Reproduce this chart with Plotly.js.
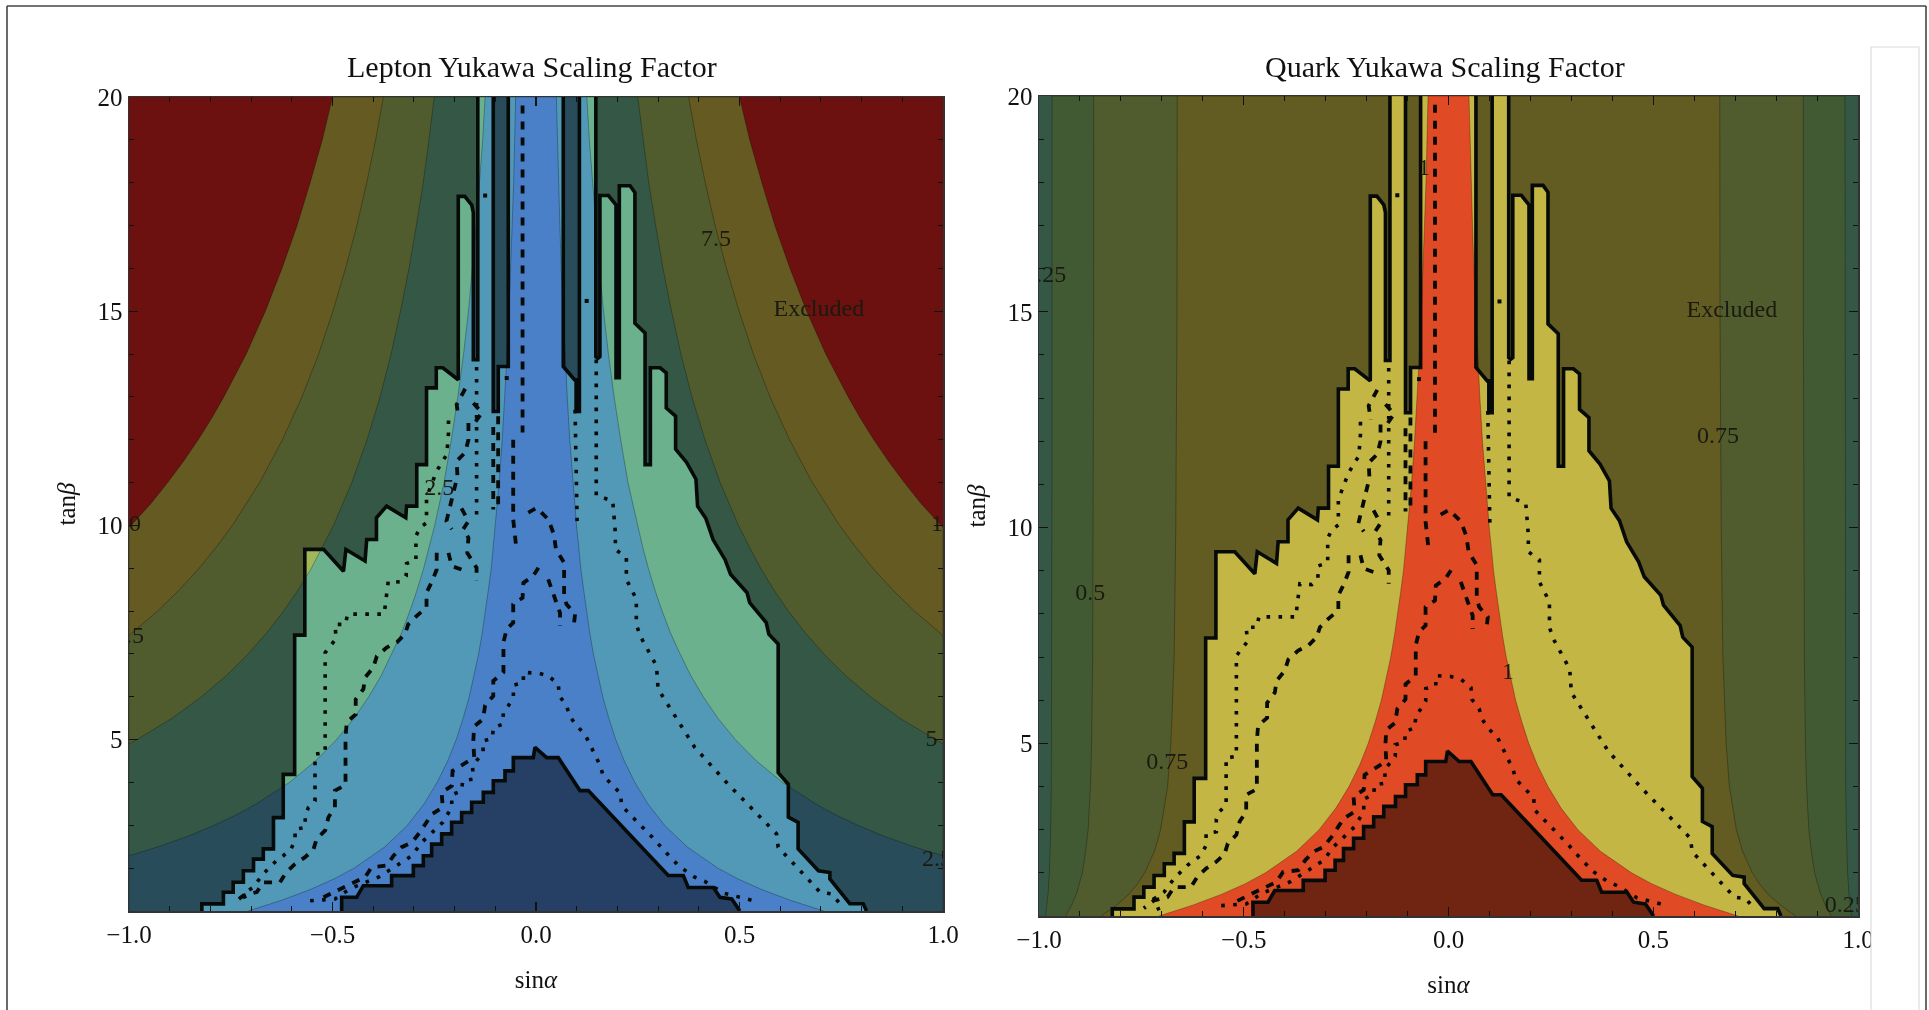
<!DOCTYPE html>
<html>
<head>
<meta charset="utf-8">
<script src="https://cdn.plot.ly/plotly-3.0.1.min.js"></script>
<style>html,body{margin:0;padding:0;background:#fff}#chart{width:1929px;height:1010px;filter:blur(0.7px)}</style>
</head>
<body>
<div id="chart"></div>
<script>
// ---- tick labels / titles
const titles = ["Lepton Yukawa Scaling Factor", "Quark Yukawa Scaling Factor"];
const xTickVals = [-1, -0.5, 0, 0.5, 1];
const xTickText = ["\u22121.0", "\u22120.5", "0.0", "0.5", "1.0"];
const yTickVals = [5, 10, 15, 20];
const yTickText = ["5", "10", "15", "20"];

// ---- lepton factor contours, half-width |sin a| read against tan b (symmetric)
const lep1  = [[.707,1],[.625,1.25],[.555,1.5],[.496,1.75],[.447,2],[.371,2.5],[.316,3],[.275,3.5],[.243,4],[.217,4.5],[.196,5],[.179,5.5],[.164,6],[.152,6.5],[.141,7],[.132,7.5],[.124,8],[.117,8.5],[.11,9],[.105,9.5],[.0995,10],[.0905,11],[.083,12],[.0767,13],[.071,14],[.0665,15],[.062,16],[.0587,17],[.055,18],[.0525,19],[.05,20]];
const lep25 = [[1,1],[1,2.29],[.928,2.5],[.854,2.75],[.791,3],[.735,3.25],[.687,3.5],[.606,4],[.542,4.5],[.49,5],[.447,5.5],[.411,6],[.38,6.5],[.354,7],[.33,7.5],[.31,8],[.292,8.5],[.276,9],[.262,9.5],[.249,10],[.226,11],[.208,12],[.192,13],[.178,14],[.166,15],[.156,16],[.147,17],[.139,18],[.131,19],[.125,20]];
const lep5  = [[1,1],[1,4.9],[.981,5],[.894,5.5],[.822,6],[.76,6.5],[.707,7],[.661,7.5],[.62,8],[.584,8.5],[.552,9],[.524,9.5],[.4975,10],[.4525,11],[.415,12],[.383,13],[.356,14],[.333,15],[.312,16],[.294,17],[.277,18],[.263,19],[.25,20]];
const lep75 = [[1,1],[1,7.43],[.93,8],[.876,8.5],[.828,9],[.785,9.5],[.746,10],[.679,11],[.623,12],[.575,13],[.534,14],[.499,15],[.468,16],[.44,17],[.416,18],[.394,19],[.375,20]];
const lep10 = [[1,1],[1,9.95],[.995,10],[.947,10.5],[.905,11],[.866,11.5],[.83,12],[.797,12.5],[.767,13],[.712,14],[.665,15],[.624,16],[.587,17],[.555,18],[.525,19],[.5,20]];

// ---- quark factor contours
const qrk25 = [[.984,1],[.9808,1.25],[.978,1.5],[.9747,2],[.9727,2.5],[.9715,3],[.97,4],[.9695,5],[.9689,7],[.9686,10],[.9684,15],[.9682,20]];
const qrk50 = [[.935,1],[.9206,1.25],[.909,1.5],[.901,1.75],[.894,2],[.886,2.5],[.88,3],[.8745,4],[.8716,5],[.869,7],[.8675,10],[.8666,15],[.8664,20]];
const qrk75 = [[.848,1],[.8106,1.25],[.781,1.5],[.759,1.75],[.742,2],[.718,2.5],[.703,3],[.686,4],[.678,5],[.67,7],[.666,10],[.663,15],[.6625,20]];

// ---- excluded region outlines
const edgeLeft = [[-.821,1],[-.821,1.166],[-.768,1.166],[-.768,1.437],[-.744,1.437],[-.744,1.67],[-.719,1.67],[-.719,1.94],[-.694,1.94],[-.694,2.21],[-.67,2.21],[-.67,2.45],[-.645,2.45],[-.645,3.18],[-.621,3.18],[-.621,4.19],[-.593,4.19],[-.593,7.44],[-.568,7.44],[-.568,9.44],[-.522,9.44],[-.473,8.93],[-.467,9.44],[-.42,9.17],[-.416,9.67],[-.392,9.67],[-.392,10.18],[-.367,10.45],[-.32,10.18],[-.318,10.45],[-.293,10.45],[-.293,11.42],[-.269,11.42],[-.269,13.21],[-.245,13.21],[-.245,13.68],[-.229,13.68],[-.191,13.4],[-.191,17.68],[-.175,17.68],[-.158,17.48],[-.154,17.3],[-.154,13.87],[-.148,13.87],[-.143,13.87],[-.143,20]];
const edgeRight = [[.147,20],[.147,13.94],[.152,13.9],[.157,13.94],[.157,17.7],[.178,17.7],[.1966,17.48],[.1966,13.45],[.2047,13.45],[.2047,17.93],[.231,17.93],[.243,17.77],[.243,14.72],[.268,14.49],[.268,11.42],[.281,11.42],[.281,13.68],[.305,13.68],[.32,13.56],[.32,12.74],[.343,12.55],[.343,11.78],[.37,11.47],[.393,11.08],[.397,10.45],[.4175,10.16],[.435,9.67],[.4646,9.2],[.478,8.86],[.5185,8.43],[.525,8.2],[.5657,7.73],[.572,7.46],[.595,7.23],[.595,4.23],[.62,3.96],[.62,3.19],[.644,3.07],[.644,2.45],[.694,1.94],[.722,1.9],[.722,1.75],[.771,1.17],[.804,1.17],[.812,1]];
const columnLeft = [[-.105,20],[-.105,12.66],[-.0927,12.66],[-.0927,13.71],[-.0681,13.71],[-.0681,20]];
const columnRight = [[.067,20],[.067,13.71],[.0946,13.4],[.0985,13.4],[.0985,12.66],[.1066,12.66],[.1066,20]];
const coreEdge = [[-.4775,1],[-.4775,1.32],[-.4407,1.32],[-.4243,1.59],[-.3547,1.59],[-.3547,1.825],[-.3014,1.825],[-.3014,2.06],[-.2769,2.06],[-.2769,2.29],[-.2564,2.29],[-.2564,2.56],[-.2318,2.56],[-.2318,2.8],[-.2073,2.8],[-.2073,3.07],[-.1827,3.07],[-.1827,3.3],[-.1581,3.3],[-.1581,3.54],[-.1295,3.54],[-.1295,3.77],[-.1049,3.77],[-.1049,4.04],[-.0762,4.04],[-.0762,4.27],[-.0557,4.27],[-.0557,4.58],[-.0066,4.58],[-.0025,4.82],[.0262,4.58],[.0548,4.58],[.108,3.81],[.1285,3.81],[.325,1.83],[.362,1.83],[.374,1.55],[.436,1.55],[.452,1.32],[.481,1.28],[.501,1]];

// ---- dashed limit curves
const dashCentre = [[-.033,19.8],[-.033,12.17]];
const dashCentre2 = [[-.056,12],[-.056,10.14],[-.048,9.44]];
const dashArchHigh = [[-.019,10.3],[.0016,10.41],[.0303,10.14],[.044,9.79],[.049,9.44],[.069,9.13],[.069,8.35],[.075,8.16],[.096,7.93],[.092,7.58]];
const dashArchLow = [[.006,9.01],[-.007,8.82],[-.031,8.66],[-.033,8.31],[-.056,8.16],[-.056,7.73],[-.072,7.58],[-.08,7.27],[-.08,6.57],[-.105,6.37],[-.105,6.02],[-.125,5.8],[-.13,5.48],[-.152,5.31],[-.154,4.97],[-.152,4.58],[-.178,4.43],[-.205,4.27],[-.207,3.92],[-.232,3.77],[-.229,3.42],[-.256,3.26],[-.269,3.07],[-.285,2.84],[-.305,2.6],[-.33,2.49],[-.35,2.29],[-.367,2.06],[-.404,2.02],[-.42,1.79],[-.473,1.55],[-.522,1.32]];
const dashArchSide = [[.03,8.74],[.043,8.39],[.059,7.96],[.059,7.65]];
const dashLong = [[-.244,9.36],[-.244,8.97],[-.256,8.68],[-.269,8.43],[-.269,8.08],[-.293,7.89],[-.314,7.69],[-.322,7.46],[-.342,7.27],[-.367,7.15],[-.391,6.95],[-.4,6.68],[-.42,6.45],[-.424,6.18],[-.443,5.94],[-.443,5.59],[-.465,5.41],[-.468,5.05],[-.468,3.94],[-.494,3.81],[-.494,3.42],[-.51,3.19],[-.518,2.88],[-.539,2.68],[-.547,2.43],[-.568,2.25],[-.592,2.1],[-.614,1.9],[-.629,1.67],[-.67,1.67],[-.686,1.44],[-.719,1.36],[-.744,1.18]];
const dashUpperA = [[-.166,12.39],[-.166,12],[-.174,11.7],[-.195,11.5],[-.193,11.15],[-.211,10.45],[-.22,10.1],[-.207,9.91]];
const dashUpperB = [[-.183,10.4],[-.166,10.1],[-.179,9.91],[-.166,9.71],[-.169,9.36],[-.146,9.01],[-.146,8.7]];
const dashUpperC = [[-.215,9.36],[-.207,9.05],[-.174,8.94]];
const dashColA = [[-.105,12.3],[-.105,10.37]];
const dashColB = [[-.093,12.55],[-.093,10.37]];
const dashTopA = [[-.174,13.19],[-.195,12.82],[-.19,12.5]];
const dashTopB = [[-.154,12.86],[-.133,12.63],[-.15,12.4]];

// ---- dotted limit curves
const dotRight = [[.148,13.87],[.148,11.07],[.148,10.7],[.1886,10.57],[.195,9.83],[.195,9.44],[.222,9.25],[.222,8.74],[.2465,8.28],[.2465,7.69],[.256,7.42],[.283,6.95],[.296,6.72],[.3,6.18],[.345,5.48],[.39,4.82],[.472,3.96],[.554,3.15],[.591,2.8],[.595,2.49],[.657,1.86],[.698,1.44],[.726,1.4],[.747,1.17]];
const dotArch = [[-.555,1.24],[-.494,1.28],[-.457,1.52],[-.387,1.79],[-.342,2.06],[-.305,2.29],[-.281,2.6],[-.229,3.07],[-.207,3.42],[-.207,3.71],[-.183,3.81],[-.18,4.04],[-.154,4.08],[-.156,4.39],[-.13,4.7],[-.13,4.97],[-.107,5.03],[-.105,5.28],[-.082,5.36],[-.08,5.65],[-.068,5.79],[-.0556,5.98],[-.0556,6.27],[-.031,6.33],[-.031,6.57],[.0057,6.55],[.03,6.49],[.055,6.29],[.057,6.02],[.075,5.8],[.082,5.56],[.1,5.32],[.12,5.13],[.1325,4.87],[.145,4.62],[.157,4.41],[.165,4.16],[.186,3.94],[.208,3.74],[.21,3.46],[.231,3.26],[.251,3.07],[.272,2.85],[.292,2.66],[.311,2.45],[.331,2.25],[.352,2.04],[.39,1.79],[.415,1.69],[.46,1.42],[.505,1.3],[.534,1.24]];
const dotLeft = [[-.215,12.45],[-.215,12.16],[-.219,11.66],[-.232,11.46],[-.244,11.27],[-.269,10.65],[-.269,10.06],[-.285,9.95],[-.295,9.75],[-.295,9.19],[-.318,9.11],[-.319,8.82],[-.334,8.68],[-.363,8.7],[-.369,8.16],[-.373,7.93],[-.463,7.93],[-.468,7.69],[-.494,7.69],[-.491,7.36],[-.518,7.03],[-.518,4.7],[-.543,4.66],[-.543,3.57],[-.559,3.42],[-.567,3.24],[-.567,2.95],[-.592,2.91],[-.592,2.64],[-.604,2.41],[-.621,2.29],[-.637,2.18],[-.67,1.87],[-.695,1.55],[-.719,1.4],[-.707,1.13]];
const dotColLeft = [[-.146,13.7],[-.146,10.18]];
const dotColRight = [[.096,12.7],[.101,10.1]];
const dotSpecks = [[-.125,17.7],[.1245,15.24],[-.072,13.44]];

// ---- text inside the panels: [text, x, y]
const lepLabels = [["7.5",.442,16.67],["Excluded",.695,15.03],["2.5",-.238,10.84],["10",-1,10],["10",1,10],["7.5",-1,7.4],["5",.972,5],["2.5",.985,2.2]];
const qrkLabels = [["0.25",-.985,15.82],["0.5",-.875,8.47],["0.75",-.687,4.54],["0.75",.658,12.1],["Excluded",.692,15.02],["0.25",.97,1.23],["1",.145,6.64],["1",-.06,18.3]];

// ---- colours
const lepColours = {bg:"#d82020", k10:"#c8b444", k75:"#a0b85a", k5:"#6bb18d", k25:"#5299b7", k1:"#4a80c8"};
const qrkColours = {bg:"#6bb18d", k25:"#85b468", k50:"#a0b85a", k75:"#c4b644", k1:"#e04a25"};
const serif = "'Liberation Serif','Times New Roman',serif";

const xs = a => a.map(p => p[0]);
const ys = a => a.map(p => p[1]);
const traces = [];
const common = {hoverinfo:"skip", showlegend:false};

function band(curve, colour, xa, ya) {
  const left = curve.map(p => [-p[0], p[1]]);
  const right = curve.slice().reverse();
  const poly = left.concat(right);
  traces.push({...common, type:"scatter", mode:"lines", x:xs(poly), y:ys(poly), xaxis:xa, yaxis:ya,
    fill:"toself", fillcolor:colour, line:{color:"rgba(0,0,0,0.28)", width:1}});
}
function shade(poly, xa, ya) {
  traces.push({...common, type:"scatter", mode:"lines", x:xs(poly), y:ys(poly), xaxis:xa, yaxis:ya,
    fill:"toself", fillcolor:"rgba(0,0,0,0.5)", line:{width:0, color:"rgba(0,0,0,0)"}});
}
function stroke(path, xa, ya, width, dash) {
  traces.push({...common, type:"scatter", mode:"lines", x:xs(path), y:ys(path), xaxis:xa, yaxis:ya,
    line:{color:"#060a08", width:width, dash:dash||"solid", shape:"linear"}});
}
function overlay(xa, ya, labels) {
  shade(edgeLeft.concat([[-1,20],[-1,1]]), xa, ya);
  shade(edgeRight.concat([[1,1],[1,20]]), xa, ya);
  shade(columnLeft, xa, ya);
  shade(columnRight, xa, ya);
  shade(coreEdge, xa, ya);
  [edgeLeft, edgeRight, columnLeft, columnRight, coreEdge].forEach(p => stroke(p, xa, ya, 3.6));
  [dashCentre, dashCentre2, dashArchHigh, dashArchLow, dashArchSide, dashLong, dashUpperA, dashUpperB, dashUpperC, dashColA, dashColB, dashTopA, dashTopB]
    .forEach(p => stroke(p, xa, ya, 3.8, "8px,8px"));
  [dotRight, dotArch, dotLeft, dotColLeft, dotColRight]
    .forEach(p => stroke(p, xa, ya, 3.6, "3.6px,8.4px"));
  traces.push({...common, type:"scatter", mode:"markers", x:xs(dotSpecks), y:ys(dotSpecks), xaxis:xa, yaxis:ya,
    marker:{size:4, color:"#060a08", symbol:"square"}});
  traces.push({...common, type:"scatter", mode:"text", cliponaxis:true, xaxis:xa, yaxis:ya,
    x:labels.map(l=>l[1]), y:labels.map(l=>l[2]), text:labels.map(l=>l[0]), textposition:"middle center",
    textfont:{family:serif, size:24, color:"#1a1a10"}});
}

band(lep10, lepColours.k10, "x", "y");
band(lep75, lepColours.k75, "x", "y");
band(lep5,  lepColours.k5,  "x", "y");
band(lep25, lepColours.k25, "x", "y");
band(lep1,  lepColours.k1,  "x", "y");
overlay("x", "y", lepLabels);

band(qrk25, qrkColours.k25, "x2", "y2");
band(qrk50, qrkColours.k50, "x2", "y2");
band(qrk75, qrkColours.k75, "x2", "y2");
band(lep1,  qrkColours.k1,  "x2", "y2");
overlay("x2", "y2", qrkLabels);

const W = 1929, H = 1010;
const px = v => v / W, py = v => 1 - v / H;

function xAxis(dom, anchor) {
  return {domain:[px(dom[0]), px(dom[1])], anchor:anchor, range:[-1,1], tickmode:"array", tickvals:xTickVals, ticktext:xTickText,
    ticks:"inside", ticklen:9, tickwidth:1.2, tickcolor:"#111", showline:true, mirror:"ticks", linecolor:"#333", linewidth:1.5,
    zeroline:false, showgrid:false, minor:{ticks:"inside", tick0:-1, dtick:0.1, ticklen:5, tickwidth:1, tickcolor:"#111", showgrid:false},
    tickfont:{family:serif, size:25, color:"#111"},
    title:{text:"sin<i>\u03b1</i>", font:{family:serif, size:25, color:"#111"}, standoff:24}};
}
function yAxis(dom, anchor) {
  return {domain:[py(dom[1]), py(dom[0])], anchor:anchor, range:[1,20], tickmode:"array", tickvals:yTickVals, ticktext:yTickText,
    ticks:"inside", ticklen:9, tickwidth:1.2, tickcolor:"#111", showline:true, mirror:"ticks", linecolor:"#333", linewidth:1.5,
    zeroline:false, showgrid:false, minor:{ticks:"inside", tick0:0, dtick:1, ticklen:5, tickwidth:1, tickcolor:"#111", showgrid:false},
    tickfont:{family:serif, size:25, color:"#111"},
    title:{text:"tan<i>\u03b2</i>", font:{family:serif, size:25, color:"#111"}, standoff:15}};
}

const layout = {
  width:W, height:H, autosize:false, margin:{l:0,r:0,t:0,b:0,pad:0}, paper_bgcolor:"#fff", showlegend:false,
  plot_bgcolor:"#fff",
  xaxis:xAxis([129,943],"y"), yaxis:yAxis([97,911],"x"),
  xaxis2:xAxis([1039,1858],"y2"), yaxis2:yAxis([96,916],"x2"),
  annotations:[
    {xref:"paper", yref:"paper", x:px(532), y:py(66), text:titles[0], showarrow:false, xanchor:"center", yanchor:"middle", font:{family:serif, size:30, color:"#111"}},
    {xref:"paper", yref:"paper", x:px(1445), y:py(66), text:titles[1], showarrow:false, xanchor:"center", yanchor:"middle", font:{family:serif, size:30, color:"#111"}}
  ],
  shapes:[
    {type:"rect", xref:"x", yref:"y", x0:-1, x1:1, y0:1, y1:20, layer:"below", fillcolor:lepColours.bg, line:{width:0}},
    {type:"rect", xref:"x2", yref:"y2", x0:-1, x1:1, y0:1, y1:20, layer:"below", fillcolor:qrkColours.bg, line:{width:0}},
    {type:"rect", xref:"paper", yref:"paper", x0:px(1871), x1:px(1919), y0:py(1012), y1:py(47), layer:"above", fillcolor:"#fff", line:{color:"#dcdcdc", width:1.2}},
    {type:"line", xref:"paper", yref:"paper", x0:px(7), x1:px(1926), y0:py(6), y1:py(6), layer:"above", line:{color:"#444", width:1.6}},
    {type:"line", xref:"paper", yref:"paper", x0:px(7), x1:px(7), y0:py(6), y1:0, layer:"above", line:{color:"#444", width:1.6}},
    {type:"line", xref:"paper", yref:"paper", x0:px(1926), x1:px(1926), y0:py(6), y1:0, layer:"above", line:{color:"#444", width:1.6}}
  ]
};
Plotly.newPlot("chart", traces, layout, {displayModeBar:false, staticPlot:true});
</script>
</body>
</html>
